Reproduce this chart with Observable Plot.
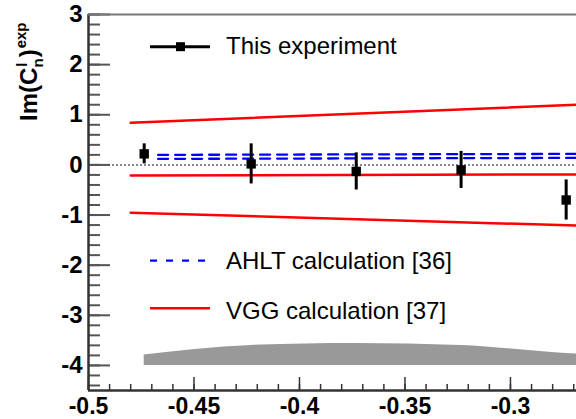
<!DOCTYPE html>
<html><head><meta charset="utf-8">
<script src="https://cdn.jsdelivr.net/npm/d3@7"></script>
<script src="https://cdn.jsdelivr.net/npm/@observablehq/plot@0.6"></script>
<style>body{margin:0;background:#fff;} #chart{width:576px;height:419px;overflow:hidden;}</style>
</head><body><div id="chart"></div>
<script>
// Experimental points
const expX = [-0.4736, -0.4229, -0.3731, -0.3234, -0.2736];
const expY = [0.22, 0.02, -0.13, -0.10, -0.70];
const expErr = [0.20, 0.40, 0.37, 0.37, 0.40];

// AHLT calculation (two dashed curves)
const ahltX = [-0.467, -0.2687];
const ahltUpper = [0.20, 0.22];
const ahltLower = [0.12, 0.14];

// VGG calculation (central value and band edges)
const vggX = [-0.48, -0.2687];
const vggUpper = [0.84, 1.20];
const vggCentral = [-0.21, -0.19];
const vggLower = [-0.955, -1.21];

// Systematic error band
const bandX = [-0.4736, -0.4229, -0.3731, -0.3234, -0.2736, -0.2687];
const bandTop = [-3.79, -3.60, -3.56, -3.60, -3.76, -3.77];
const bandBottom = -4.0;

// Ticks
const xTicks = [-0.5, -0.45, -0.4, -0.35, -0.3];
const yTicks = [3, 2, 1, 0, -1, -2, -3, -4];
const xDomain = [-0.5, -0.2687];
const yDomain = [-4.5, 3];

const xMinor = d3.range(0, 24).map(i => +(-0.5 + i * 0.01).toFixed(2));
const yMinor = d3.range(0, 38).map(i => +(-4.4 + i * 0.2).toFixed(1));

const exp = expX.map((x, i) => ({x, y: expY[i], lo: expY[i] - expErr[i], hi: expY[i] + expErr[i]}));
const band = bandX.map((x, i) => ({x, top: bandTop[i]}));
const mk = (xs, ys) => xs.map((x, i) => ({x, y: ys[i]}));

const W = 576, H = 419, ML = 88, MR = 0, MT = 14, MB = 29;
const PW = W - ML - MR, PH = H - MT - MB;
const font = "'Liberation Sans', Arial, Helvetica, sans-serif";

const plot = Plot.plot({
  width: W, height: H,
  marginLeft: ML, marginRight: MR, marginTop: MT, marginBottom: MB,
  x: {domain: xDomain},
  y: {domain: yDomain},
  style: {fontFamily: font, background: "white", color: "black"},
  marks: [
    Plot.areaY(band, {x: "x", y1: bandBottom, y2: "top", fill: "#999", curve: "monotone-x"}),
    Plot.ruleY([0], {stroke: "#888", strokeWidth: 2, strokeDasharray: "2,2"}),
    Plot.line(mk(vggX, vggUpper), {x: "x", y: "y", stroke: "#ff0000", strokeWidth: 2.5}),
    Plot.line(mk(vggX, vggCentral), {x: "x", y: "y", stroke: "#ff0000", strokeWidth: 2.5}),
    Plot.line(mk(vggX, vggLower), {x: "x", y: "y", stroke: "#ff0000", strokeWidth: 2.5}),
    Plot.line(mk(ahltX, ahltUpper), {x: "x", y: "y", stroke: "#0000ff", strokeWidth: 2.3, strokeDasharray: "10,7"}),
    Plot.line(mk(ahltX, ahltLower), {x: "x", y: "y", stroke: "#0000ff", strokeWidth: 2.3, strokeDasharray: "10,7"}),
    Plot.ruleX(exp, {x: "x", y1: "lo", y2: "hi", stroke: "black", strokeWidth: 3}),
    Plot.dot(exp, {x: "x", y: "y", symbol: "square", r: 5.3, fill: "black", stroke: null}),
    // ticks (inside)
    Plot.tickY(yMinor, {y: d => d, insetRight: PW - 12, stroke: "#555", strokeWidth: 2}),
    Plot.tickY(yTicks, {y: d => d, insetRight: PW - 22, stroke: "#555", strokeWidth: 2}),
    Plot.tickX(xMinor, {x: d => d, insetTop: PH - 6, stroke: "#333", strokeWidth: 1.5}),
    Plot.tickX(xTicks, {x: d => d, insetTop: PH - 13, stroke: "#333", strokeWidth: 1.5}),
    // frame lines
    Plot.ruleX([xDomain[0]], {stroke: "#333", strokeWidth: 2.5}),
    Plot.ruleY([yDomain[0]], {stroke: "#333", strokeWidth: 2.5}),
    Plot.ruleY([yDomain[1]], {stroke: "#777", strokeWidth: 2}),
    Plot.axisY(yTicks, {tickSize: 0, tickPadding: 6, fontSize: 24, fontWeight: "bold", tickFormat: d => String(d), label: null}),
    Plot.axisX(xTicks, {tickSize: 0, tickPadding: 7, fontSize: 23, fontWeight: "bold", tickFormat: d => String(d), label: null})
  ]
});

document.getElementById("chart").appendChild(plot);

const svg = d3.select(plot);
// Y axis title: Im(C_n^l)^exp
const yt = svg.append("text")
  .attr("transform", "translate(37,121) rotate(-90)")
  .attr("text-anchor", "start")
  .attr("font-family", font).attr("font-weight", "bold").attr("font-size", 24).attr("fill", "black");
yt.append("tspan").text("Im(C");
yt.append("tspan").attr("font-size", 15).attr("dy", -10).attr("dx", 1).text("l");
yt.append("tspan").attr("font-size", 15).attr("dy", 16).attr("dx", -5).text("n");
yt.append("tspan").attr("dy", -6).attr("dx", 1).text(")");
yt.append("tspan").attr("font-size", 15).attr("dy", -11).attr("dx", 1).text("exp");

// Legend
const leg = svg.append("g").attr("font-family", font).attr("font-size", 24).attr("fill", "black").attr("text-anchor", "start");
const legendItems = [
  {label: "This experiment", y: 46.7, baseline: 53.5, kind: "exp"},
  {label: "AHLT calculation [36]", y: 260.7, baseline: 268.5, kind: "ahlt"},
  {label: "VGG calculation [37]", y: 308.3, baseline: 318.5, kind: "vgg"}
];
legendItems.forEach(it => {
  if (it.kind === "exp") {
    leg.append("line").attr("x1", 150).attr("x2", 210).attr("y1", it.y).attr("y2", it.y).attr("stroke", "black").attr("stroke-width", 3);
    leg.append("rect").attr("x", 176).attr("y", it.y - 4.5).attr("width", 9).attr("height", 9).attr("fill", "black");
  } else if (it.kind === "ahlt") {
    leg.append("line").attr("x1", 150).attr("x2", 212).attr("y1", it.y).attr("y2", it.y).attr("stroke", "#0000ff").attr("stroke-width", 2.3).attr("stroke-dasharray", "7,9");
  } else {
    leg.append("line").attr("x1", 150).attr("x2", 210).attr("y1", it.y).attr("y2", it.y).attr("stroke", "#ff0000").attr("stroke-width", 2.5);
  }
  leg.append("text").attr("x", 226).attr("y", it.baseline).text(it.label);
});
</script>
</body></html>
